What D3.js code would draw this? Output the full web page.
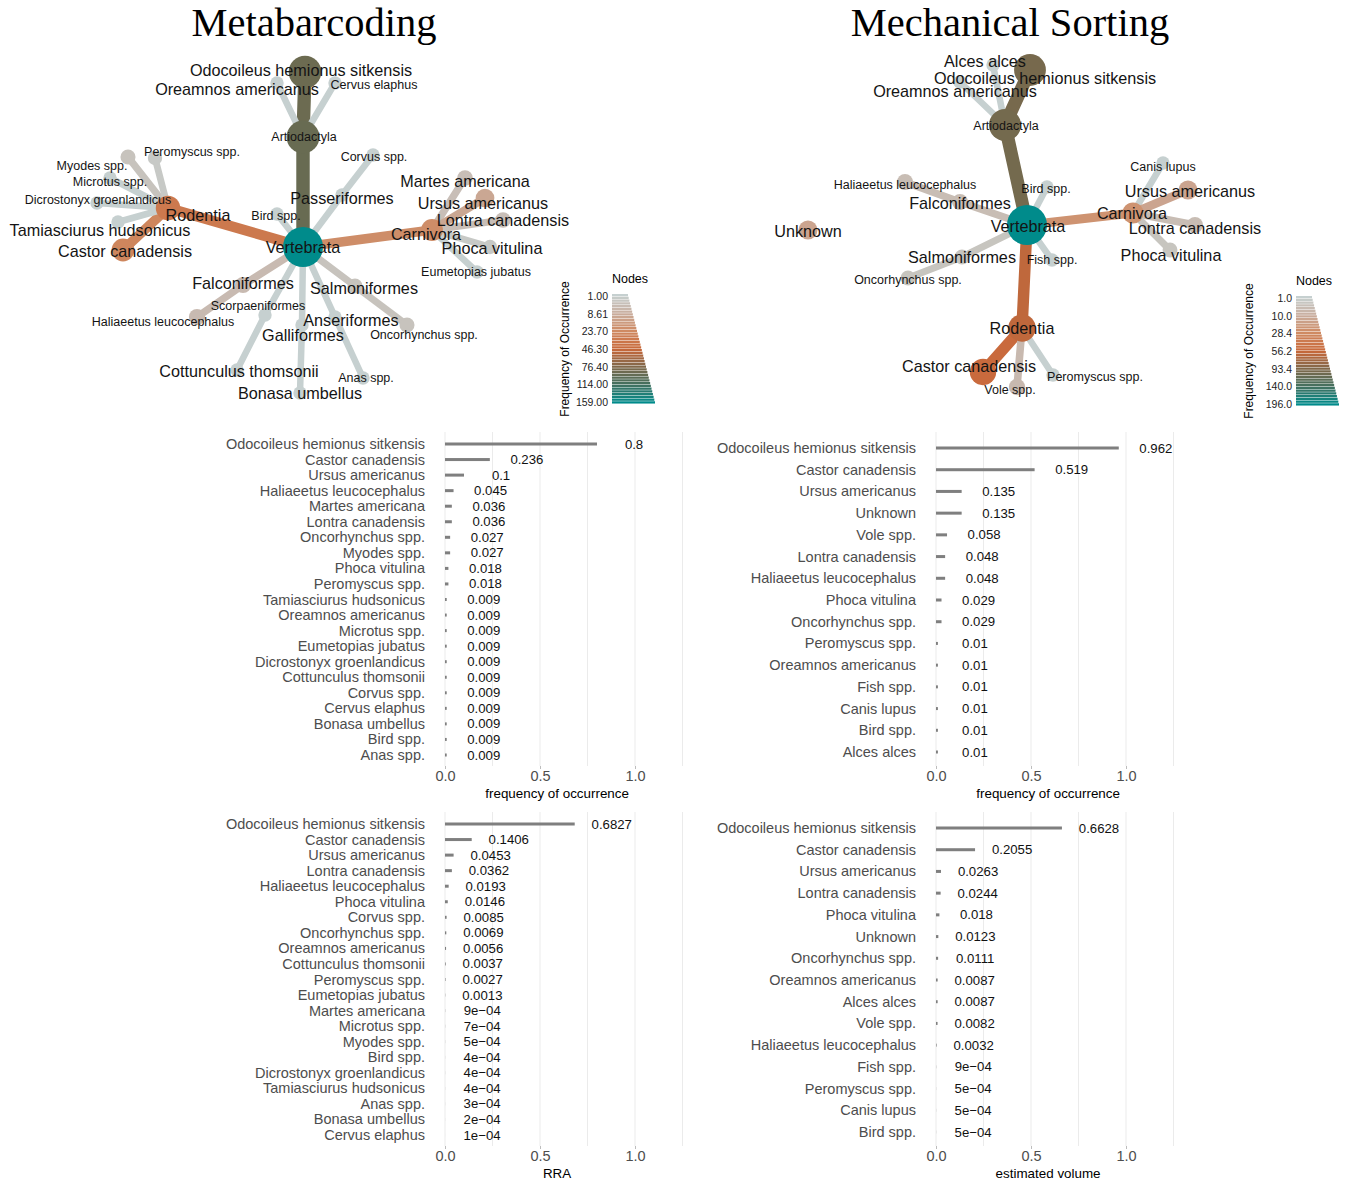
<!DOCTYPE html>
<html>
<head>
<meta charset="utf-8">
<script src="https://cdn.jsdelivr.net/npm/d3@7"></script>
<style>
body { margin: 0; background: #fff; }
text { font-family: "Liberation Sans", Arial, sans-serif; }
</style>
</head>
<body>
<div id="chart"></div>
<script>
// ---------- taxonomy trees ----------
var metaNames = ["Vertebrata","Artiodactyla","Odocoileus hemionus sitkensis","Oreamnos americanus","Cervus elaphus",
  "Rodentia","Castor canadensis","Tamiasciurus hudsonicus","Dicrostonyx groenlandicus","Microtus spp.","Myodes spp.","Peromyscus spp.",
  "Bird spp.","Passeriformes","Corvus spp.","Carnivora","Martes americana","Ursus americanus","Lontra canadensis","Phoca vitulina","Eumetopias jubatus",
  "Falconiformes","Haliaeetus leucocephalus","Scorpaeniformes","Cottunculus thomsonii","Galliformes","Bonasa umbellus",
  "Anseriformes","Anas spp.","Salmoniformes","Oncorhynchus spp."];
var metaParents = [null,"Vertebrata","Artiodactyla","Artiodactyla","Artiodactyla",
  "Vertebrata","Rodentia","Rodentia","Rodentia","Rodentia","Rodentia","Rodentia",
  "Vertebrata","Vertebrata","Passeriformes","Vertebrata","Carnivora","Carnivora","Carnivora","Carnivora","Carnivora",
  "Vertebrata","Falconiformes","Vertebrata","Scorpaeniformes","Vertebrata","Galliformes",
  "Vertebrata","Anseriformes","Vertebrata","Salmoniformes"];
var metaCounts = [159, 90, 88, 1, 1, 34, 26, 1, 1, 1, 3, 2, 1, 1, 1, 22, 4, 11, 4, 2, 1, 5, 5, 1, 1, 1, 1, 1, 1, 3, 3];

var sortNames = ["Vertebrata","Artiodactyla","Odocoileus hemionus sitkensis","Alces alces","Oreamnos americanus",
  "Bird spp.","Falconiformes","Haliaeetus leucocephalus","Unknown","Salmoniformes","Oncorhynchus spp.","Fish spp.",
  "Rodentia","Castor canadensis","Vole spp.","Peromyscus spp.","Carnivora","Canis lupus","Ursus americanus","Lontra canadensis","Phoca vitulina"];
var sortParents = [null,"Vertebrata","Artiodactyla","Artiodactyla","Artiodactyla",
  "Vertebrata","Vertebrata","Falconiformes",null,"Vertebrata","Salmoniformes","Vertebrata",
  "Vertebrata","Rodentia","Rodentia","Rodentia","Vertebrata","Carnivora","Carnivora","Carnivora","Carnivora"];
var sortCounts = [196, 102, 100, 1, 1, 1, 5, 5, 14, 3, 3, 1, 61, 54, 6, 1, 23, 1, 14, 5, 3];

// graph layout coordinates (layout units, origin at the root)
var metaLayoutX = [0, 0, 0.2, -2.6, 3.2, -13.5, -18, -18.5, -20.6, -19.3, -17.5, -14.8, -2.6, 3.9, 7, 12.9, 16.2, 18.2, 20, 18.7, 17.4, -6, -10.6, -3.8, -6.6, -0.1, -0.3, 3.2, 6, 5.2, 10.4];
var metaLayoutY = [0, 11, 17.5, 16.4, 16.4, 3.9, -0.3, 2.5, 4.4, 6.9, 9, 8.9, 3.3, 5.2, 9.2, 1.7, 6.9, 4.9, 2.7, 0, -2.5, -3.8, -7, -6.8, -12.3, -7.8, -14.6, -7, -13.1, -3.9, -7.8];
var sortLayoutX = [0, -2.2, 0.3, -3.4, -6.7, 2, -6.7, -12.2, -21.9, -6.5, -11.9, 2.5, -0.5, -4.4, -1, 2.6, 10.6, 13.6, 16.1, 16.8, 14.3];
var sortLayoutY = [0, 10, 15.5, 16, 14.3, 3.8, 2.3, 4.3, -0.5, -3.2, -5.3, -3.5, -10.3, -14.7, -16.2, -15, 1.2, 6.2, 3.5, 0, -2.5];

// repelled label offsets and label size class
var metaLabelDX = [0, 1, -4, -40, 39, 30, 2, -18, 1, 0, -36, 37, -1, 0, 1, -6, 0, -2, 0, 2, -1, 0, -34, -7, 2, 1, 0, 16, 3, 9, 17];
var metaLabelDY = [0, 0, -2, 6, 2, 7, 1, 8, -3, 4, 9, -6, 2, 3, 2, 4, 3, 5, 0, 1, 0, -2, 5, -9, 1, 10, 0, 3, 0, 2, 10];
var metaLabelBig = [1,0,1,1,0,1,1,1,0,0,0,0,0,1,0,1,1,1,1,1,0,1,0,0,1,1,1,1,0,1,0];
var sortLabelDX = [1, 1, 15, -8, -5, -1, 0, 0, 0, 0, 0, 0, 0, -14, -7, 42, -1, 0, 2, 0, 1];
var sortLabelDY = [1, 1, 8, -4, 9, 2, 1, 3, 1, 0, 2, 0, 0, -6, 3, 2, 0, 4, 1, 3, 5];
var sortLabelBig = [1,0,1,1,1,0,1,0,1,1,0,0,1,1,0,0,1,0,1,1,1];

var metaLegendTicks = ["1.00","8.61","23.70","46.30","76.40","114.00","159.00"];
var sortLegendTicks = ["1.0","10.0","28.4","56.2","93.4","140.0","196.0"];

// ---------- bar panels ----------
var metaFooSpecies = ["Odocoileus hemionus sitkensis","Castor canadensis","Ursus americanus","Haliaeetus leucocephalus","Martes americana",
  "Lontra canadensis","Oncorhynchus spp.","Myodes spp.","Phoca vitulina","Peromyscus spp.","Tamiasciurus hudsonicus","Oreamnos americanus",
  "Microtus spp.","Eumetopias jubatus","Dicrostonyx groenlandicus","Cottunculus thomsonii","Corvus spp.","Cervus elaphus","Bonasa umbellus","Bird spp.","Anas spp."];
var metaFooValues = [0.8, 0.236, 0.1, 0.045, 0.036, 0.036, 0.027, 0.027, 0.018, 0.018, 0.009, 0.009, 0.009, 0.009, 0.009, 0.009, 0.009, 0.009, 0.009, 0.009, 0.009];

var sortFooSpecies = ["Odocoileus hemionus sitkensis","Castor canadensis","Ursus americanus","Unknown","Vole spp.","Lontra canadensis",
  "Haliaeetus leucocephalus","Phoca vitulina","Oncorhynchus spp.","Peromyscus spp.","Oreamnos americanus","Fish spp.","Canis lupus","Bird spp.","Alces alces"];
var sortFooValues = [0.962, 0.519, 0.135, 0.135, 0.058, 0.048, 0.048, 0.029, 0.029, 0.01, 0.01, 0.01, 0.01, 0.01, 0.01];

var metaRraSpecies = ["Odocoileus hemionus sitkensis","Castor canadensis","Ursus americanus","Lontra canadensis","Haliaeetus leucocephalus",
  "Phoca vitulina","Corvus spp.","Oncorhynchus spp.","Oreamnos americanus","Cottunculus thomsonii","Peromyscus spp.","Eumetopias jubatus",
  "Martes americana","Microtus spp.","Myodes spp.","Bird spp.","Dicrostonyx groenlandicus","Tamiasciurus hudsonicus","Anas spp.","Bonasa umbellus","Cervus elaphus"];
var metaRraValues = [0.6827, 0.1406, 0.0453, 0.0362, 0.0193, 0.0146, 0.0085, 0.0069, 0.0056, 0.0037, 0.0027, 0.0013, 0.0009, 0.0007, 0.0005, 0.0004, 0.0004, 0.0004, 0.0003, 0.0002, 0.0001];

var sortVolSpecies = ["Odocoileus hemionus sitkensis","Castor canadensis","Ursus americanus","Lontra canadensis","Phoca vitulina","Unknown",
  "Oncorhynchus spp.","Oreamnos americanus","Alces alces","Vole spp.","Haliaeetus leucocephalus","Fish spp.","Peromyscus spp.","Canis lupus","Bird spp."];
var sortVolValues = [0.6628, 0.2055, 0.0263, 0.0244, 0.018, 0.0123, 0.0111, 0.0087, 0.0087, 0.0082, 0.0032, 0.0009, 0.0005, 0.0005, 0.0005];

var xTicks = [0, 0.5, 1];
var gridTicks = [0, 0.25, 0.5, 0.75, 1, 1.25];

// ----------------------------------------------------
var svg = d3.select("#chart").append("svg")
    .attr("width", 1347)
    .attr("height", 1180);

var colorByU = d3.scaleLinear()
    .domain([0, 0.167, 0.333, 0.5, 0.667, 0.833, 1])
    .range(["#c6d0d0", "#c9ae9f", "#cf8a62", "#c9683a", "#80684a", "#43705f", "#008b8b"]);

svg.append("text").attr("x", 314).attr("y", 36).attr("text-anchor", "middle")
    .style("font-family", "'Liberation Serif', 'Times New Roman', serif").style("font-size", "40.5px")
    .text("Metabarcoding");
svg.append("text").attr("x", 1010).attr("y", 36).attr("text-anchor", "middle")
    .style("font-family", "'Liberation Serif', 'Times New Roman', serif").style("font-size", "40.5px")
    .text("Mechanical Sorting");

function drawTree(t) {
    var maxV = d3.max(t.counts);
    var su = d3.scaleLinear().domain([1, Math.sqrt(maxV)]).range([0, 1]);
    var u = v => su(Math.sqrt(v));
    var r = d3.scaleLinear().domain([0, 1]).range([6.7, 20]);
    var w = d3.scaleLinear().domain([0, 1]).range([6.5, 16]);
    var x = d3.scaleLinear().domain([-25, 25]).range([t.cx - 250, t.cx + 250]);
    var y = d3.scaleLinear().domain([-20, 20]).range([t.cy + 200, t.cy - 200]);

    var nodes = t.names.map((name, i) => ({
        name: name, parent: t.parents[i], count: t.counts[i],
        x: x(t.lx[i]), y: y(t.ly[i]), dx: t.dx[i], dy: t.dy[i], big: t.big[i]
    }));
    var byName = {};
    nodes.forEach(d => byName[d.name] = d);
    var links = nodes.filter(d => d.parent).map(d => ({source: byName[d.parent], target: d}));

    var g = svg.append("g");
    g.selectAll("line.edge").data(links).enter().append("line")
        .attr("class", "edge")
        .attr("x1", d => d.source.x).attr("y1", d => d.source.y)
        .attr("x2", d => d.target.x).attr("y2", d => d.target.y)
        .attr("stroke", d => colorByU(u(d.target.count)))
        .attr("stroke-width", d => w(u(d.target.count)))
        .attr("stroke-linecap", "round");

    g.selectAll("circle").data(nodes).enter().append("circle")
        .attr("cx", d => d.x).attr("cy", d => d.y)
        .attr("r", d => r(u(d.count)))
        .attr("fill", d => colorByU(u(d.count)));

    g.selectAll("text").data(nodes).enter().append("text")
        .attr("x", d => d.x + d.dx).attr("y", d => d.y + d.dy)
        .attr("text-anchor", "middle").attr("dominant-baseline", "central")
        .style("font-size", d => d.big ? "16.2px" : "12.5px")
        .style("fill", "#141414")
        .text(d => d.name);

    // legend: colour + size wedge
    var lg = svg.append("g");
    var top = t.legTop, hgt = 110, n = 40;
    var stripes = d3.range(n).map(i => i / (n - 1));
    var ly = d3.scaleLinear().domain([0, 1]).range([top, top + hgt - hgt / n]);
    lg.selectAll("rect").data(stripes).enter().append("rect")
        .attr("x", t.legX)
        .attr("y", d => ly(d))
        .attr("width", d => 16 + 27 * d)
        .attr("height", hgt / n - 0.45)
        .attr("fill", d => colorByU(d));
    lg.selectAll("text.tick").data(t.ticks).enter().append("text")
        .attr("class", "tick")
        .attr("x", t.legX - 4)
        .attr("y", d => top + 2 + u(parseFloat(d)) * (hgt - 4))
        .attr("text-anchor", "end").attr("dominant-baseline", "central")
        .style("font-size", "10.5px").style("fill", "#222")
        .text(d => d);
    lg.append("text").attr("x", t.legX + 18).attr("y", top - 15)
        .attr("text-anchor", "middle").attr("dominant-baseline", "central")
        .style("font-size", "12.5px").text("Nodes");
    lg.append("text")
        .attr("transform", "translate(" + (t.legX - 47) + "," + (top + 55) + ") rotate(-90)")
        .attr("text-anchor", "middle").attr("dominant-baseline", "central")
        .style("font-size", "12px").text("Frequency of Occurrence");
}

drawTree({names: metaNames, parents: metaParents, counts: metaCounts, lx: metaLayoutX, ly: metaLayoutY,
    dx: metaLabelDX, dy: metaLabelDY, big: metaLabelBig, cx: 303, cy: 247, legX: 612, legTop: 294, ticks: metaLegendTicks});
drawTree({names: sortNames, parents: sortParents, counts: sortCounts, lx: sortLayoutX, ly: sortLayoutY,
    dx: sortLabelDX, dy: sortLabelDY, big: sortLabelBig, cx: 1027, cy: 225, legX: 1296, legTop: 296, ticks: sortLegendTicks});

function fmt(v) {
    if (v >= 0.001) return String(v);
    return Math.round(v * 1e4) + "e\u221204";
}

function drawBars(p) {
    var x = d3.scaleLinear().domain([0, 1]).range([p.x0, p.x0 + 190]);
    var y = d3.scalePoint().domain(p.species).range([p.rowTop, p.rowBottom]);
    var g = svg.append("g");

    g.selectAll("line.grid").data(gridTicks).enter().append("line")
        .attr("x1", d => x(d)).attr("x2", d => x(d))
        .attr("y1", p.panelTop).attr("y2", p.panelBottom)
        .attr("stroke", "#ebebeb").attr("stroke-width", 1);

    var axis = d3.axisBottom(x).tickValues(xTicks).tickFormat(d3.format(".1f")).tickSize(3).tickPadding(2);
    var ax = g.append("g").attr("transform", "translate(0," + p.panelBottom + ")").call(axis);
    ax.select(".domain").remove();
    ax.selectAll("line").attr("stroke", "#bdbdbd");
    ax.selectAll("text").style("font-size", "14.5px").style("fill", "#4d4d4d")
        .style("font-family", "'Liberation Sans', Arial, sans-serif");

    g.append("text").attr("x", x(0.59)).attr("y", p.panelBottom + 27)
        .attr("text-anchor", "middle").attr("dominant-baseline", "central")
        .style("font-size", "13.4px").text(p.title);

    var data = p.species.map((s, i) => ({s: s, v: p.values[i]}));
    g.selectAll("rect").data(data).enter().append("rect")
        .attr("x", x(0)).attr("y", d => y(d.s) - 1.5)
        .attr("width", d => x(d.v) - x(0)).attr("height", 3)
        .attr("fill", "#7f7f7f");

    g.selectAll("text.cat").data(data).enter().append("text")
        .attr("class", "cat")
        .attr("x", p.x0 - 20).attr("y", d => y(d.s))
        .attr("text-anchor", "end").attr("dominant-baseline", "central")
        .style("font-size", "14.5px").style("fill", "#4d4d4d")
        .text(d => d.s);

    g.selectAll("text.val").data(data).enter().append("text")
        .attr("class", "val")
        .attr("x", d => x(d.v + 0.195)).attr("y", d => y(d.s))
        .attr("text-anchor", "middle").attr("dominant-baseline", "central")
        .style("font-size", "13.2px").style("fill", "#111")
        .text(d => fmt(d.v));
}

drawBars({species: metaFooSpecies, values: metaFooValues, x0: 445, rowTop: 444, rowBottom: 755,
    panelTop: 432, panelBottom: 766, title: "frequency of occurrence"});
drawBars({species: sortFooSpecies, values: sortFooValues, x0: 936, rowTop: 448, rowBottom: 752,
    panelTop: 432, panelBottom: 766, title: "frequency of occurrence"});
drawBars({species: metaRraSpecies, values: metaRraValues, x0: 445, rowTop: 824, rowBottom: 1135,
    panelTop: 812, panelBottom: 1146, title: "RRA"});
drawBars({species: sortVolSpecies, values: sortVolValues, x0: 936, rowTop: 828, rowBottom: 1132,
    panelTop: 812, panelBottom: 1146, title: "estimated volume"});
</script>
</body>
</html>
